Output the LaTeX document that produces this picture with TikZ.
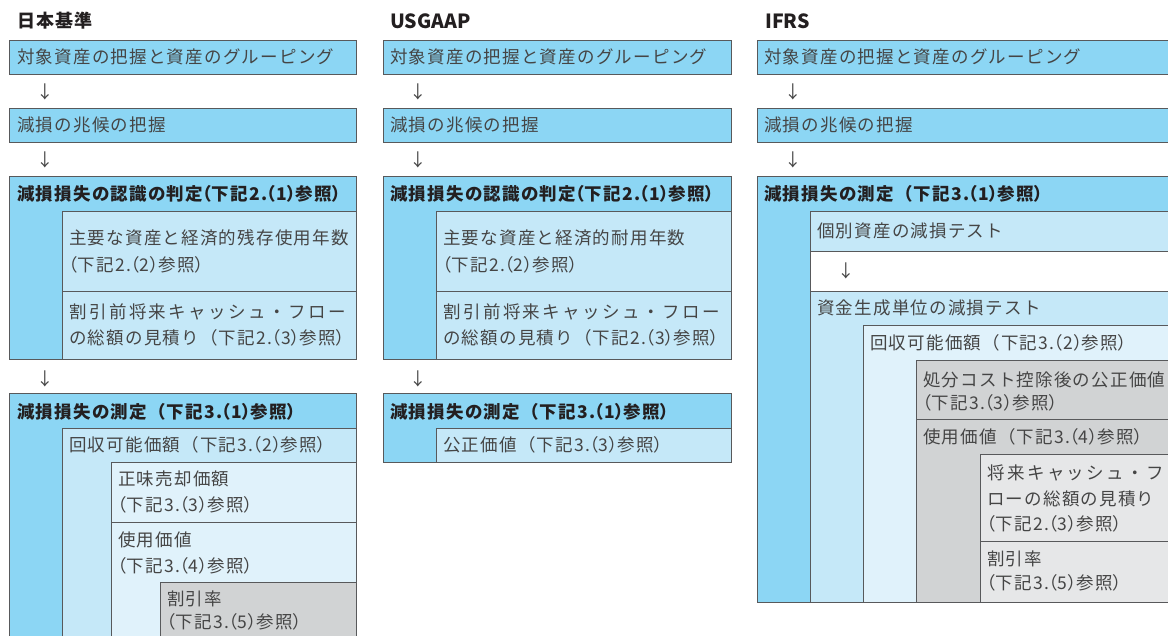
\documentclass[tikz,border=0pt]{standalone}
\usepackage{fontspec}
\newfontfamily\jp{Noto Sans CJK JP}[LetterSpace=7]
\newfontfamily\jph{Noto Sans CJK JP}[LetterSpace=7,RawFeature=+halt]
\newfontfamily\jpwide{Noto Sans CJK JP}[LetterSpace=14]
\newfontfamily\jplat{Noto Sans CJK JP}
\newcommand\LP{{\jph （}}
\newcommand\RP{{\jph ）}}
\newcommand\kk[2]{\LP 下記#1\LP #2\RP 参照\RP}
\newcommand\kkf[2]{（下記#1\LP #2\RP 参照\RP}
\definecolor{bH}{HTML}{8CD6F4}
\definecolor{bL1}{HTML}{C5E8F8}
\definecolor{bL2}{HTML}{E0F2FB}
\definecolor{gA}{HTML}{D1D3D4}
\definecolor{gB}{HTML}{E6E7E8}
\definecolor{bordercol}{HTML}{58595B}
\definecolor{textcol}{HTML}{454545}
\definecolor{headcol}{HTML}{231F20}
\tikzset{
  box/.style={draw=bordercol, line width=0.9pt},
  txt/.style={anchor=base west, inner sep=0pt, text=textcol, font=\jp\fontsize{17.5}{20}\selectfont},
  wtxt/.style={txt, font=\jpwide\fontsize{17.5}{20}\selectfont},
  hd/.style={txt, text=headcol, font=\jp\bfseries\fontsize{17.5}{20}\selectfont},
  ttl/.style={txt, text=headcol, font=\jp\bfseries\fontsize{18}{20}\selectfont},
  lttl/.style={txt, text=headcol, font=\jplat\bfseries\fontsize{19.5}{20}\selectfont},
  arr/.style={anchor=base, inner sep=0pt, text=textcol, font=\jplat\fontsize{17.5}{20}\selectfont}
}
\begin{document}
\begin{tikzpicture}[x=1pt,y=-1pt]
\clip (0,0) rectangle (1168,635);
\fill[white] (0,0) rectangle (1168,635);
% ---------- Column 1: 日本基準 ----------
\node[ttl] (t1) at (17,27.5) {日本基準};
\draw[box,fill=bH] (9,40) rectangle (356,74);
\node[txt] (a1) at (17,63.5) {対象資産の把握と資産のグルーピング};
\node[arr] (ar11) at (45,98.5) {↓};
\draw[box,fill=bH] (9,108) rectangle (356,142);
\node[txt] (b1) at (17,131.5) {減損の兆候の把握};
\node[arr] (ar12) at (45,166.5) {↓};
\draw[box,fill=bH] (9,176) rectangle (356,359);
\node[hd] (c1) at (17,200) {減損損失の認識の判定\kk{2.}{1}};
\draw[box,fill=bL1] (62,211) rectangle (356,291);
\node[txt] (c1a) at (69,244.5) {主要な資産と経済的残存使用年数};
\node[txt] (c1b) at (69,271.5) {\kk{2.}{2}};
\draw[box,fill=bL1] (62,291) rectangle (356,359);
\node[wtxt] (c1c) at (69,318.5) {割引前将来キャッシュ・フロー};
\node[txt] (c1d) at (69,344.5) {の総額の見積り\kkf{2.}{3}};
\node[arr] (ar13) at (45,385.5) {↓};
\draw[box,fill=bH] (9,393) rectangle (356,650);
\node[hd] (d1) at (17,418.5) {減損損失の測定\kkf{3.}{1}};
\draw[box,fill=bL1] (62,428) rectangle (356,650);
\node[txt] (d1a) at (69,451.5) {回収可能価額\kkf{3.}{2}};
\draw[box,fill=bL2] (111,462) rectangle (356,522);
\node[txt] (d1b) at (118,485.5) {正味売却価額};
\node[txt] (d1c) at (118,511.5) {\kk{3.}{3}};
\draw[box,fill=bL2] (111,522) rectangle (356,650);
\node[txt] (d1d) at (118,546.5) {使用価値};
\node[txt] (d1e) at (118,572.5) {\kk{3.}{4}};
\draw[box,fill=gA] (160,582) rectangle (356,650);
\node[txt] (d1f) at (167,605.5) {割引率};
\node[txt] (d1g) at (167,628.5) {\kk{3.}{5}};
% ---------- Column 2: USGAAP ----------
\node[lttl] (t2) at (390,28) {USGAAP};
\draw[box,fill=bH] (383,40) rectangle (731,74);
\node[txt] (a2) at (390,63.5) {対象資産の把握と資産のグルーピング};
\node[arr] (ar21) at (418,98.5) {↓};
\draw[box,fill=bH] (383,108) rectangle (731,142);
\node[txt] (b2) at (390,131.5) {減損の兆候の把握};
\node[arr] (ar22) at (418,166.5) {↓};
\draw[box,fill=bH] (383,176) rectangle (731,359);
\node[hd] (c2) at (390,200) {減損損失の認識の判定\kk{2.}{1}};
\draw[box,fill=bL1] (436,211) rectangle (731,291);
\node[txt] (c2a) at (443,244.5) {主要な資産と経済的耐用年数};
\node[txt] (c2b) at (443,271.5) {\kk{2.}{2}};
\draw[box,fill=bL1] (436,291) rectangle (731,359);
\node[wtxt] (c2c) at (443,318.5) {割引前将来キャッシュ・フロー};
\node[txt] (c2d) at (443,344.5) {の総額の見積り\kkf{2.}{3}};
\node[arr] (ar23) at (418,385.5) {↓};
\draw[box,fill=bH] (383,393) rectangle (731,462);
\node[hd] (d2) at (390,418.5) {減損損失の測定\kkf{3.}{1}};
\draw[box,fill=bL1] (436,428) rectangle (731,462);
\node[txt] (d2a) at (443,451.5) {公正価値\kkf{3.}{3}};
% ---------- Column 3: IFRS ----------
\node[lttl] (t3) at (765,28) {IFRS};
\draw[box,fill=bH] (757,40) rectangle (1180,74);
\node[txt] (a3) at (764,63.5) {対象資産の把握と資産のグルーピング};
\node[arr] (ar31) at (793,98.5) {↓};
\draw[box,fill=bH] (757,108) rectangle (1180,142);
\node[txt] (b3) at (764,131.5) {減損の兆候の把握};
\node[arr] (ar32) at (793,166.5) {↓};
\draw[box,fill=bH] (757,176) rectangle (1180,602);
\node[hd] (d3) at (764,200) {減損損失の測定\kkf{3.}{1}};
\draw[box,fill=bL1] (810,211) rectangle (1180,251);
\node[txt] (d3a) at (817,237.5) {個別資産の減損テスト};
\draw[box,fill=white] (810,251) rectangle (1180,291);
\node[arr] (ar33) at (846,277.5) {↓};
\draw[box,fill=bL1] (810,291) rectangle (1180,602);
\node[txt] (d3b) at (817,314.5) {資金生成単位の減損テスト};
\draw[box,fill=bL2] (863,325) rectangle (1180,602);
\node[txt] (d3c) at (870,349.5) {回収可能価額\kkf{3.}{2}};
\draw[box,fill=gA] (916,360) rectangle (1180,419);
\node[txt] (d3d) at (923,386.5) {処分コスト控除後の公正価値};
\node[txt] (d3e) at (923,409.5) {\kk{3.}{3}};
\draw[box,fill=gA] (916,419) rectangle (1180,602);
\node[txt] (d3f) at (923,443.5) {使用価値\kkf{3.}{4}};
\draw[box,fill=gB] (980,454) rectangle (1180,541);
\node[wtxt] (d3g) at (987,479.5) {将来キャッシュ・フ};
\node[txt] (d3h) at (987,505.5) {ローの総額の見積り};
\node[txt] (d3i) at (987,530.5) {\kk{2.}{3}};
\draw[box,fill=gB] (980,541) rectangle (1180,602);
\node[txt] (d3j) at (987,565.5) {割引率};
\node[txt] (d3k) at (987,589.5) {\kk{3.}{5}};
\end{tikzpicture}
\end{document}
